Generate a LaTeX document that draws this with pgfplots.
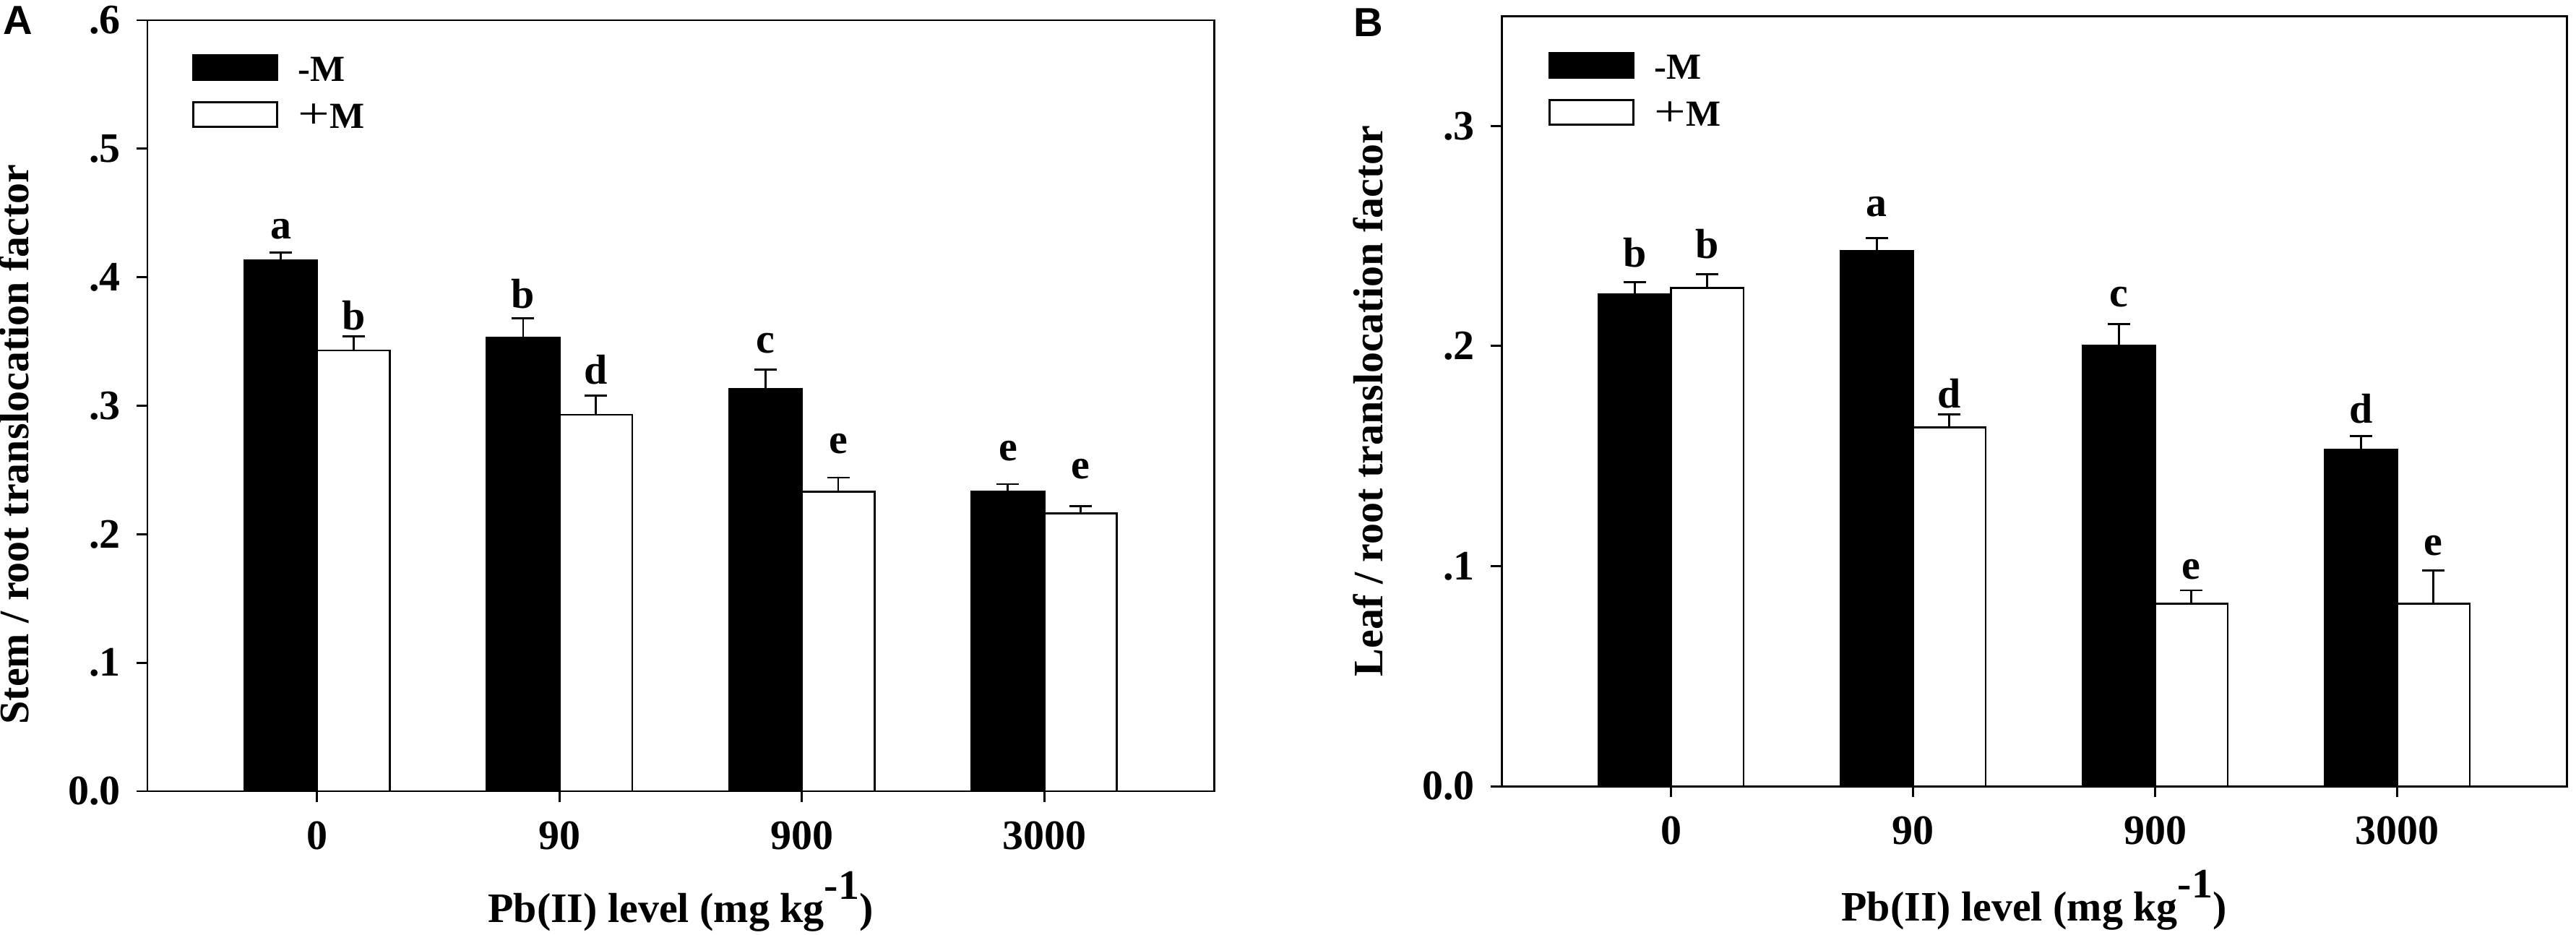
\documentclass[border=0pt]{standalone}
\usepackage{fontspec}
\setmainfont{Liberation Serif}
\newfontfamily\panelfont{Liberation Sans}
\usepackage{pgfplots}
\usepackage{pgfplotstable}
\pgfplotsset{compat=1.18}

\newcommand\lf{\fontsize{16.5}{19}\selectfont\bfseries}
\newcommand\legf{\fontsize{14.5}{16}\selectfont\bfseries}

% Panel A: stem / root
\pgfplotstableread{
x y e
-0.15 0.413 0.006
0.85 0.353 0.015
1.85 0.313 0.015
2.85 0.233 0.006
}\Aminus
\pgfplotstableread{
x y e
0.15 0.343 0.011
1.15 0.293 0.015
2.15 0.233 0.011
3.15 0.216 0.006
}\Aplus
% Panel B: leaf / root
\pgfplotstableread{
x y e
-0.15 0.2235 0.0055
0.85 0.243 0.006
1.85 0.200 0.010
2.85 0.153 0.006
}\Bminus
\pgfplotstableread{
x y e
0.15 0.2265 0.006
1.15 0.163 0.006
2.15 0.083 0.006
3.15 0.083 0.015
}\Bplus

\tikzset{letter/.style={font=\lf, anchor=base, inner sep=0pt}}

\pgfplotsset{
  common/.style={
    scale only axis,
    xmin=-0.7, xmax=3.7,
    ymin=0,
    xtick={0,1,2,3},
    xticklabels={0,90,900,3000},
    tick align=outside,
    tick pos=left,
    major tick length=0.15cm,
    line width=0.85pt,
    every tick/.style={black, line width=0.85pt},
    tick label style={font=\lf},
    xticklabel style={yshift=-0.14cm},
    yticklabel style={xshift=-0.09cm},
    label style={font=\lf},
    xlabel={Pb(II) level (mg kg\raisebox{0.55em}{-1})},
    legend image code/.code={\draw[##1] (0cm,-0.12cm) rectangle (1.16cm,0.22cm); \path (1.36cm,0cm);},
    legend style={draw=none, fill=none, font=\legf, anchor=north west,
      row sep=0.12cm, cells={anchor=west}, inner sep=0pt},
  },
  bars/.style={
    ybar, bar width=0.3, bar shift=0pt, draw=black, line width=0.8pt,
    error bars/y dir=plus, error bars/y explicit,
    error bars/error bar style={line width=0.8pt},
    error bars/error mark options={rotate=90, mark size=0.155cm, line width=0.8pt},
  },
}

\newcommand\plusM{{\mdseries\fontsize{17}{16}\selectfont\scalebox{1.3}[1]{+}}M}

\begin{document}
\begin{tikzpicture}
\useasboundingbox (0,0) rectangle (35.65cm,12.93cm);

\node[anchor=north west, inner sep=0pt, font=\panelfont\bfseries\fontsize{16}{18}\selectfont] at (0.04cm,12.85cm) {A};
\node[anchor=north west, inner sep=0pt, font=\panelfont\bfseries\fontsize{16}{18}\selectfont] at (18.73cm,12.82cm) {B};

\begin{axis}[common,
  at={(2.04cm,1.98cm)}, anchor=south west,
  width=14.76cm, height=10.67cm,
  ymax=0.6,
  ytick={0,0.1,0.2,0.3,0.4,0.5,0.6},
  yticklabels={0.0,.1,.2,.3,.4,.5,.6},
  ylabel={Stem / root translocation factor},
  ylabel style={at={(axis description cs:-0.125,0.45)}, anchor=center},
  xlabel style={at={(axis description cs:0.5,0)}, anchor=base, yshift=-1.81cm},
  legend style={at={(axis description cs:0.0413,0.96)}},
]
\addlegendimage{fill=black, draw=black, line width=0.8pt}
\addlegendentry{-M}
\addlegendimage{fill=white, draw=black, line width=0.8pt}
\addlegendentry{\plusM}
\addplot[bars, fill=black, forget plot] table[x=x, y=y, y error=e] {\Aminus};
\addplot[bars, fill=white, forget plot] table[x=x, y=y, y error=e] {\Aplus};
\node[letter] at (axis cs:-0.15,0.430) {a};
\node[letter] at (axis cs:0.15,0.359) {b};
\node[letter] at (axis cs:0.85,0.376) {b};
\node[letter] at (axis cs:1.15,0.317) {d};
\node[letter] at (axis cs:1.85,0.341) {c};
\node[letter] at (axis cs:2.15,0.263) {e};
\node[letter] at (axis cs:2.85,0.257) {e};
\node[letter] at (axis cs:3.15,0.243) {e};
\end{axis}

\begin{axis}[common,
  at={(20.78cm,2.05cm)}, anchor=south west,
  width=14.74cm, height=10.66cm,
  ymax=0.35,
  ytick={0,0.1,0.2,0.3},
  yticklabels={0.0,.1,.2,.3},
  ylabel={Leaf / root translocation factor},
  ylabel style={at={(axis description cs:-0.125,0.5)}, anchor=center},
  xlabel style={at={(axis description cs:0.5,0)}, anchor=base, yshift=-1.86cm},
  legend style={at={(axis description cs:0.0434,0.957)}},
]
\addlegendimage{fill=black, draw=black, line width=0.8pt}
\addlegendentry{-M}
\addlegendimage{fill=white, draw=black, line width=0.8pt}
\addlegendentry{\plusM}
\addplot[bars, fill=black, forget plot] table[x=x, y=y, y error=e] {\Bminus};
\addplot[bars, fill=white, forget plot] table[x=x, y=y, y error=e] {\Bplus};
\node[letter] at (axis cs:-0.15,0.236) {b};
\node[letter] at (axis cs:0.15,0.240) {b};
\node[letter] at (axis cs:0.85,0.259) {a};
\node[letter] at (axis cs:1.15,0.172) {d};
\node[letter] at (axis cs:1.85,0.218) {c};
\node[letter] at (axis cs:2.15,0.094) {e};
\node[letter] at (axis cs:2.85,0.165) {d};
\node[letter] at (axis cs:3.15,0.105) {e};
\end{axis}
\end{tikzpicture}
\end{document}
